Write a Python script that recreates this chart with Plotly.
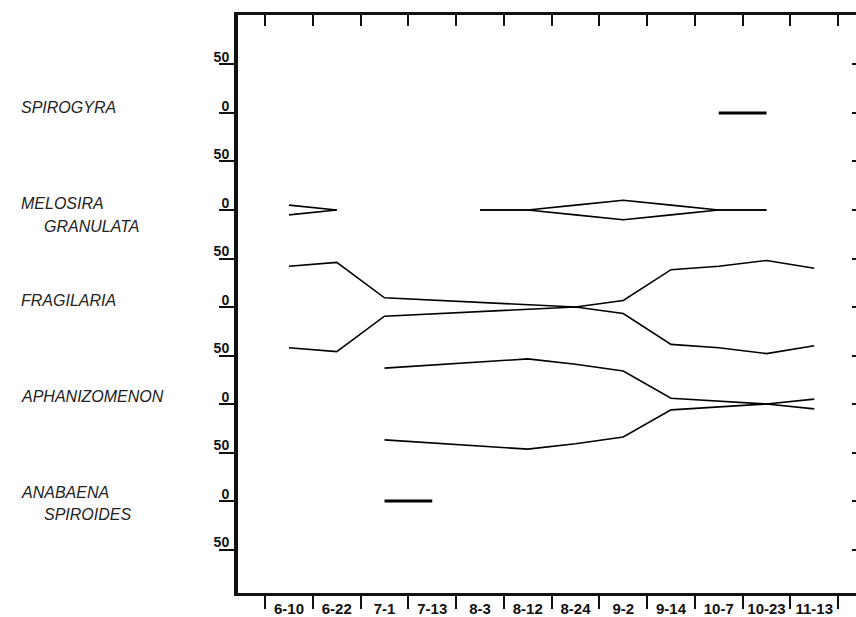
import numpy as np
import plotly.graph_objects as go

# ---------------- data ----------------
dates = ["6-10", "6-22", "7-1", "7-13", "8-3", "8-12", "8-24", "9-2", "9-14", "10-7", "10-23", "11-13"]

species_lines = [["SPIROGYRA"], ["MELOSIRA", "GRANULATA"], ["FRAGILARIA"],
                 ["APHANIZOMENON"], ["ANABAENA", "SPIROIDES"]]

# half-widths of each kite (None = not present)
spirogyra = [None, None, None, None, None, None, None, None, None, 0.8, 0.8, None]
melosira = [5, 0, None, None, 0, 0, 5, 10, 5, 0, 0, None]
fragilaria = [42, 46, 9.5, 7, 5, 2.5, 0, 6.7, 38.5, 42, 48, 40]
aphanizomenon = [None, None, 37, 40, 43, 46.5, 41, 34, 6, 3, 0, 5]
anabaena = [None, None, 0.8, 0.8, None, None, None, None, None, None, None, None]

series = [spirogyra, melosira, fragilaria, aphanizomenon, anabaena]

band = 100  # units between species baselines
ytick_vals = [50, 0, -50, -100, -150, -200, -250, -300, -350, -400, -450]
ytick_text = ["50", "0", "50", "0", "50", "0", "50", "0", "50", "0", "50"]

# ---------------- figure ----------------
fig = go.Figure()
line_style = dict(color="#000000", width=1.6)

for k, vals in enumerate(series):
    base = -band * k
    upper = [None if v is None else base + v for v in vals]
    lower = [None if v is None else base - v for v in vals]
    for ys in (upper, lower):
        fig.add_trace(go.Scatter(x=dates, y=ys, mode="lines", line=line_style,
                                 connectgaps=False, showlegend=False, hoverinfo="skip"))

# helper traces so that overlay axes get drawn
fig.add_trace(go.Scatter(x=[0], y=[0], xaxis="x2", yaxis="y", mode="markers",
                         marker=dict(opacity=0), showlegend=False, hoverinfo="skip"))
fig.add_trace(go.Scatter(x=[dates[0]], y=[0], xaxis="x", yaxis="y2", mode="markers",
                         marker=dict(opacity=0), showlegend=False, hoverinfo="skip"))

n = len(dates)
xr = [-1.068, n - 0.126]
yr = [-494.8, 101]

fig.update_layout(
    width=856, height=617,
    margin=dict(l=238, r=0, t=15, b=24),
    paper_bgcolor="white", plot_bgcolor="white",
    font=dict(family="Liberation Sans, Arial, sans-serif", color="#111111"),
    xaxis=dict(type="category", categoryorder="array", categoryarray=dates,
               range=xr, tickson="boundaries", ticks="outside", ticklen=13,
               tickwidth=1.5, tickcolor="#111111", showline=True, linewidth=3,
               linecolor="#111111", showgrid=False, zeroline=False,
               tickangle=0, automargin=False,
               tickfont=dict(size=15, weight="bold", color="#111111"),
               ticklabelstandoff=0),
    xaxis2=dict(overlaying="x", side="top", anchor="y", range=xr,
                tickmode="array", tickvals=list(np.arange(n + 1) - 0.5),
                ticks="inside", ticklen=11, tickwidth=1.5, tickcolor="#111111",
                showticklabels=False, showline=True, linewidth=3, automargin=False,
                linecolor="#111111", showgrid=False, zeroline=False),
    yaxis=dict(range=yr, tickmode="array", tickvals=ytick_vals, ticktext=ytick_text,
               ticks="outside", ticklen=15, tickwidth=2, tickcolor="#111111",
               showline=True, linewidth=4, linecolor="#111111",
               showgrid=False, zeroline=False, automargin=False,
               tickfont=dict(size=14, weight="bold", color="#111111"),
               ticklabelstandoff=-13, ticklabelshift=-7),
    yaxis2=dict(overlaying="y", side="right", anchor="x", range=yr,
                tickmode="array", tickvals=ytick_vals, ticks="inside", ticklen=4,
                tickwidth=1.5, tickcolor="#111111", showticklabels=False,
                showline=False, showgrid=False, zeroline=False, automargin=False),
)

# species labels
plot_left, plot_w = 238, 856 - 238
first_offsets = [6, 7, 7, 8, 9]
second_offsets = [None, -16.5, None, None, -14]
for k, lines in enumerate(species_lines):
    base = -band * k
    fig.add_annotation(text=lines[0], xref="paper", yref="y",
                       x=(19 - plot_left) / plot_w, y=base + first_offsets[k],
                       xanchor="left", yanchor="middle", showarrow=False,
                       font=dict(size=16, style="italic", color="#222222"))
    if len(lines) > 1:
        fig.add_annotation(text=lines[1], xref="paper", yref="y",
                           x=(42 - plot_left) / plot_w, y=base + second_offsets[k],
                           xanchor="left", yanchor="middle", showarrow=False,
                           font=dict(size=16, style="italic", color="#222222"))

fig.write_html("out.html", config={"displayModeBar": False},
               post_script="document.body.style.margin='0';document.body.style.overflow='hidden';")
